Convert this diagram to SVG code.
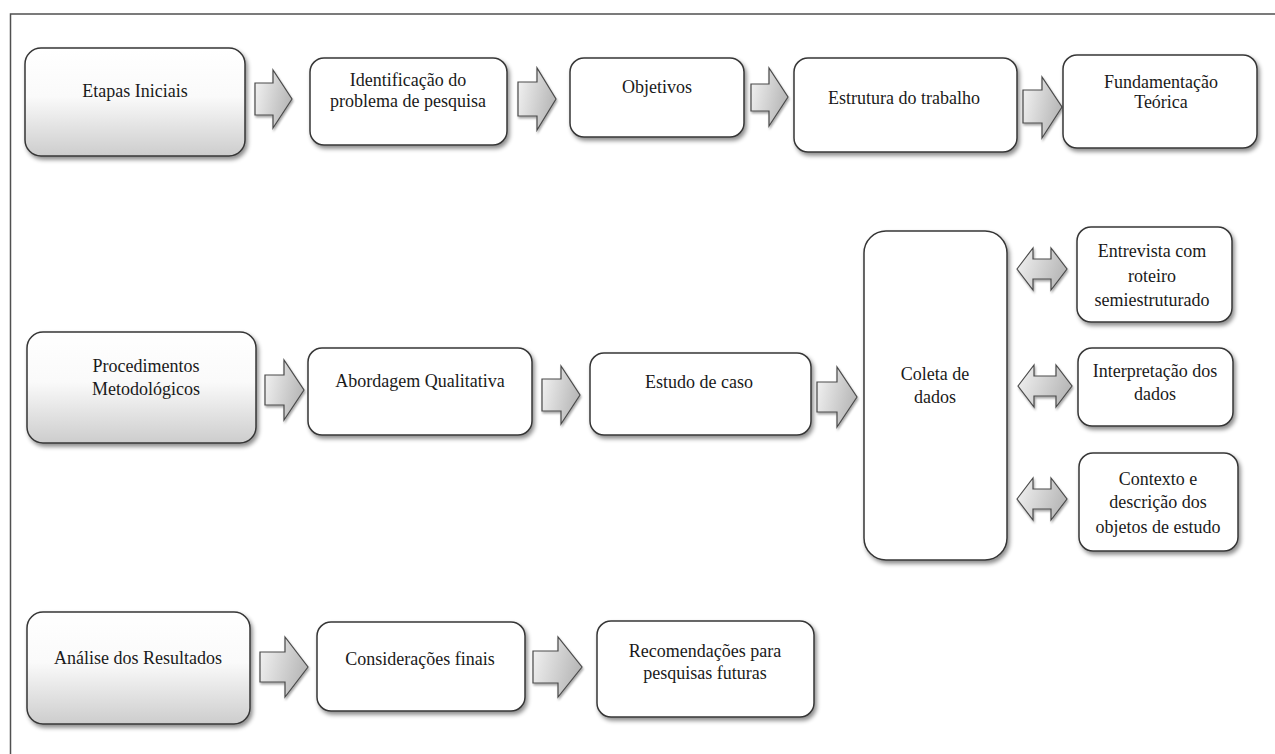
<svg xmlns="http://www.w3.org/2000/svg" width="1275" height="754" viewBox="0 0 1275 754">
<defs>
<linearGradient id="boxg" x1="0" y1="0" x2="0" y2="1">
<stop offset="0" stop-color="#ffffff"/>
<stop offset="0.45" stop-color="#fafafa"/>
<stop offset="1" stop-color="#cdcdcd"/>
</linearGradient>
<linearGradient id="arrg" x1="0" y1="0" x2="1" y2="0.3">
<stop offset="0" stop-color="#f4f4f4"/>
<stop offset="1" stop-color="#b9b9b9"/>
</linearGradient>
<filter id="sh" x="-10%" y="-10%" width="125%" height="130%">
<feDropShadow dx="2" dy="3" stdDeviation="2" flood-color="#000" flood-opacity="0.45"/>
</filter>
<filter id="sha" x="-20%" y="-20%" width="150%" height="150%">
<feDropShadow dx="1" dy="2" stdDeviation="1.2" flood-color="#000" flood-opacity="0.35"/>
</filter>
</defs>
<style>
.box{fill:#ffffff;stroke:#363636;stroke-width:1.5;filter:url(#sh)}
.gbox{fill:url(#boxg);stroke:#363636;stroke-width:1.5;filter:url(#sh)}
.arr{fill:url(#arrg);stroke:#4a4a4a;stroke-width:1.2;stroke-linejoin:miter;filter:url(#sha)}
.t{font-family:'Liberation Serif','DejaVu Serif',serif;font-size:18px;fill:#1a1a1a;text-anchor:middle}
.frame{stroke:#505050;stroke-width:1.5;fill:none}
</style>
<rect width="1275" height="754" fill="#ffffff"/>
<path class="frame" d="M10.5,754 V14 H1275"/>

<g id="connectors">
<path class="arr" d="M255,83 H273 V70 L292,99 L273,128 V115 H255 Z"/>
<path class="arr" d="M518,82 H537 V68 L556,99 L537,130 V116 H518 Z"/>
<path class="arr" d="M751,84 H769 V68 L788,97 L769,126 V111 H751 Z"/>
<path class="arr" d="M1023,90 H1042 V77 L1062,107 L1042,138 V123 H1023 Z"/>
<path class="arr" d="M265,375 H284 V360 L304,390 L284,420 V405 H265 Z"/>
<path class="arr" d="M542,379 H561 V366 L580,395 L561,424 V411 H542 Z"/>
<path class="arr" d="M817,382 H837 V367 L857,397 L837,427 V412 H817 Z"/>
<path class="arr" d="M260,652 H285 V637 L308,667 L285,697 V682 H260 Z"/>
<path class="arr" d="M533,651 H558 V637 L582,667 L558,697 V683 H533 Z"/>
<path class="arr" d="M1017,269 L1033,248 V259 H1051 V248 L1067,269 L1051,290 V279 H1033 V290 Z"/>
<path class="arr" d="M1018,386 L1034,365 V376 H1056 V365 L1072,386 L1056,407 V396 H1034 V407 Z"/>
<path class="arr" d="M1017,499 L1033,478 V489 H1051 V478 L1067,499 L1051,520 V509 H1033 V520 Z"/>
</g>

<g font-family="Liberation Serif, DejaVu Serif, serif" font-size="18">
<g id="n-etapas"><rect class="gbox" x="25" y="48" width="220" height="108" rx="16"/><text class="t" x="135" y="97">Etapas Iniciais</text></g>
<g id="n-ident"><rect class="box" x="310" y="58" width="197" height="87" rx="14"/><text class="t" x="408" y="86">Identificação do</text><text class="t" x="408" y="107">problema de pesquisa</text></g>
<g id="n-obj"><rect class="box" x="570" y="58" width="174" height="79" rx="14"/><text class="t" x="657" y="93">Objetivos</text></g>
<g id="n-estr"><rect class="box" x="794" y="58" width="223" height="94" rx="14"/><text class="t" x="904" y="104">Estrutura do trabalho</text></g>
<g id="n-fund"><rect class="box" x="1063" y="55" width="194" height="93" rx="14"/><text class="t" x="1161" y="88">Fundamentação</text><text class="t" x="1161" y="108">Teórica</text></g>

<g id="n-proc"><rect class="gbox" x="27" y="332" width="229" height="111" rx="16"/><text class="t" x="146" y="372">Procedimentos</text><text class="t" x="146" y="395">Metodológicos</text></g>
<g id="n-abord"><rect class="box" x="308" y="348" width="224" height="87" rx="14"/><text class="t" x="420" y="387">Abordagem Qualitativa</text></g>
<g id="n-estudo"><rect class="box" x="590" y="353" width="221" height="82" rx="14"/><text class="t" x="699" y="388">Estudo de caso</text></g>
<g id="n-coleta"><rect class="box" x="864" y="231" width="143" height="329" rx="22"/><text class="t" x="935" y="380">Coleta de</text><text class="t" x="935" y="403">dados</text></g>
<g id="n-entrev"><rect class="box" x="1077" y="227" width="155" height="95" rx="14"/><text class="t" x="1152" y="257">Entrevista com</text><text class="t" x="1152" y="282">roteiro</text><text class="t" x="1152" y="306">semiestruturado</text></g>
<g id="n-interp"><rect class="box" x="1078" y="348" width="155" height="78" rx="14"/><text class="t" x="1155" y="377">Interpretação dos</text><text class="t" x="1155" y="400">dados</text></g>
<g id="n-contexto"><rect class="box" x="1079" y="453" width="159" height="98" rx="14"/><text class="t" x="1158" y="485">Contexto e</text><text class="t" x="1158" y="508">descrição dos</text><text class="t" x="1158" y="533">objetos de estudo</text></g>

<g id="n-analise"><rect class="gbox" x="27" y="612" width="223" height="112" rx="16"/><text class="t" x="138" y="664">Análise dos Resultados</text></g>
<g id="n-consid"><rect class="box" x="317" y="622" width="208" height="89" rx="14"/><text class="t" x="420" y="665">Considerações finais</text></g>
<g id="n-recom"><rect class="box" x="597" y="621" width="217" height="96" rx="14"/><text class="t" x="705" y="657">Recomendações para</text><text class="t" x="705" y="679">pesquisas futuras</text></g>
</g>
</svg>
